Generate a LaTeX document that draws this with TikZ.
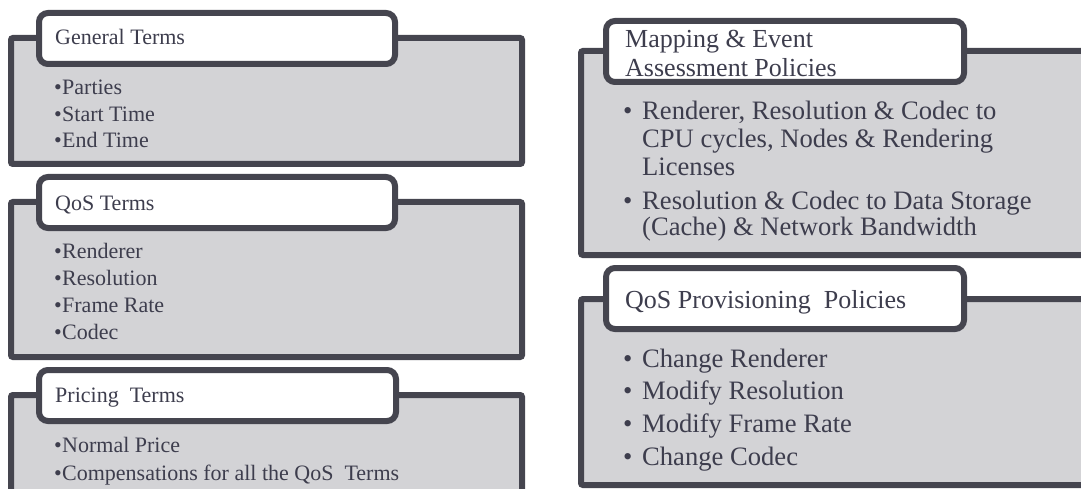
\documentclass[tikz,border=0pt]{standalone}
\usepackage{fontspec}
\setmainfont{Liberation Serif}
\definecolor{edge}{HTML}{45454F}
\definecolor{panelfill}{HTML}{D3D3D6}
\definecolor{ink}{HTML}{3D3D4D}
\tikzset{
  panel/.style={draw=edge, fill=panelfill, line width=6pt, rounded corners=2pt},
  tab/.style={draw=edge, fill=white, line width=6pt, rounded corners=9pt},
  ltitle/.style={anchor=base west, inner sep=0pt, text=ink, font=\fontsize{22}{26}\selectfont},
  litem/.style={anchor=base west, inner sep=0pt, text=ink, font=\fontsize{22}{26}\selectfont},
  rtitle/.style={anchor=base west, inner sep=0pt, text=ink, font=\fontsize{26}{29}\selectfont},
  ritem/.style={anchor=base west, inner sep=0pt, text=ink, font=\fontsize{26.6}{29}\selectfont},
}
\newcommand{\lb}{\makebox[8pt][l]{•}}
\newcommand{\rb}{\makebox[19pt][l]{•}}
\begin{document}
\begin{tikzpicture}[x=1pt,y=-1pt]
\useasboundingbox (0,0) rectangle (1081,489);
\clip (0,0) rectangle (1081,489);

% left column: contract terms
\draw[panel] (11,38) rectangle (522,164);
\draw[tab] (39,13) rectangle (395,64);
\node[ltitle] (gt) at (55,45) {General Terms};
\node[litem] (gt1) at (54,95) {\lb Parties};
\node[litem] (gt2) at (54,121.5) {\lb Start Time};
\node[litem] (gt3) at (54,148) {\lb End Time};

\draw[panel] (11,202) rectangle (522,357);
\draw[tab] (39,177) rectangle (395,228);
\node[ltitle] (qt) at (55,211) {QoS Terms};
\node[litem] (qt1) at (54,258) {\lb Renderer};
\node[litem] (qt2) at (54,285) {\lb Resolution};
\node[litem] (qt3) at (54,312) {\lb Frame Rate};
\node[litem] (qt4) at (54,339) {\lb Codec};

\draw[panel] (11,395) rectangle (522,510);
\draw[tab] (39,370) rectangle (396,421);
\node[ltitle] (pt) at (55,402) {Pricing\ \ Terms};
\node[litem] (pt1) at (54,452) {\lb Normal Price};
\node[litem] (pt2) at (54,480) {\lb Compensations for all the QoS\ \ Terms};

% right column: policies
\draw[panel] (581,51) rectangle (1095,255);
\draw[tab] (606,21) rectangle (964,82);
\node[rtitle] (mp) at (625,48) {Mapping \& Event};
\node[rtitle] (mp0) at (625,77) {Assessment Policies};
\node[ritem] (mp1) at (623,120) {\rb Renderer, Resolution \& Codec to};
\node[ritem] (mp2) at (642,148) {CPU cycles, Nodes \& Rendering};
\node[ritem] (mp3) at (642,176) {Licenses};
\node[ritem] (mp4) at (623,209) {\rb Resolution \& Codec to Data Storage};
\node[ritem] (mp5) at (642,236) {(Cache) \& Network Bandwidth};

\draw[panel] (581,299) rectangle (1095,485);
\draw[tab] (606,268) rectangle (964,329);
\node[rtitle] (qp) at (625,308) {QoS Provisioning\ \ Policies};
\node[ritem] (qp1) at (623,367) {\rb Change Renderer};
\node[ritem] (qp2) at (623,399) {\rb Modify Resolution};
\node[ritem] (qp3) at (623,432) {\rb Modify Frame Rate};
\node[ritem] (qp4) at (623,465) {\rb Change Codec};
\end{tikzpicture}
\end{document}
